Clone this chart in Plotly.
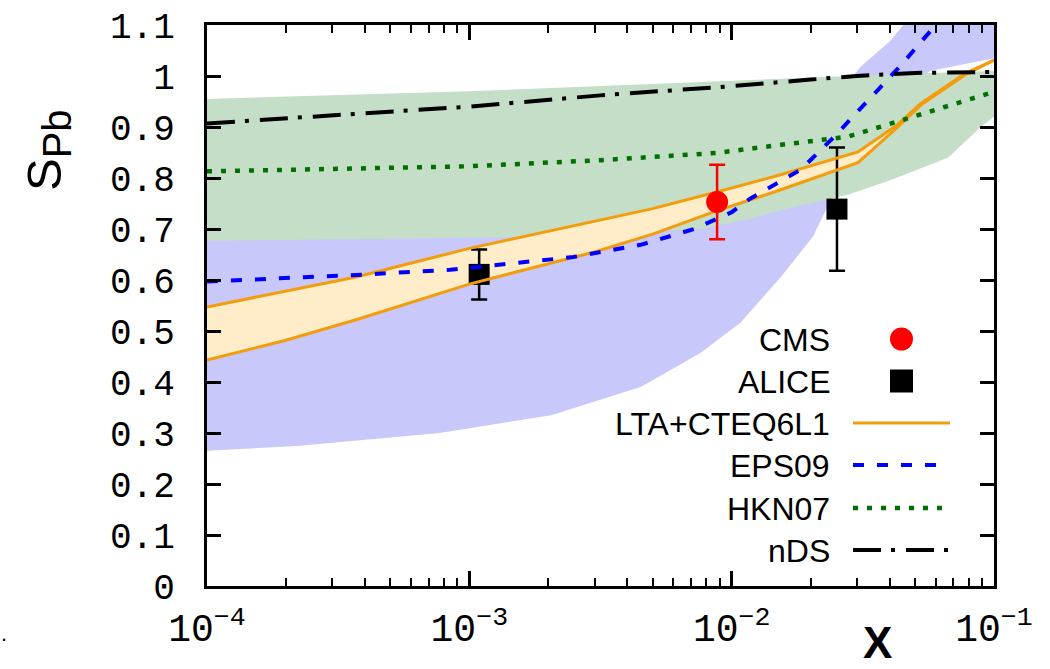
import plotly.graph_objects as go

# ---------------- data ----------------
# EPS09 uncertainty band
eps_band_lo_x = [1e-4, 2.26e-4, 7.7e-4, 2.05e-3, 4.5e-3, 7.6e-3, 1.08e-2, 1.29e-2, 1.54e-2,
                 2.04e-2, 2.25e-2, 3e-2, 4e-2, 5.7e-2, 7.5e-2, 1e-1]
eps_band_lo_y = [0.265, 0.275, 0.30, 0.335, 0.39, 0.457, 0.516, 0.56, 0.606,
                 0.685, 0.73, 0.85, 0.95, 1.01, 1.022, 1.035]
eps_band_hi_x = [1e-4, 1e-2, 2e-2, 2.9e-2, 3.1e-2, 4.05e-2, 4.5e-2, 1e-1]
eps_band_hi_y = [0.80, 0.85, 0.93, 1.0, 1.018, 1.07, 1.10, 1.5]
# EPS09 central
eps_x = [1e-4, 3.74e-4, 8.45e-4, 2.49e-3, 4.5e-3, 7.2e-3, 1e-2, 1.18e-2, 1.83e-2,
         2.45e-2, 3.6e-2, 4.4e-2, 5.9e-2, 1e-1]
eps_y = [0.597, 0.61, 0.62, 0.645, 0.669, 0.70, 0.733, 0.76, 0.816,
         0.88, 0.972, 1.02, 1.096, 1.24]

# HKN07 uncertainty band
hkn_band_hi_x = [1e-4, 1e-3, 3.16e-3, 1e-2, 2e-2, 5e-2, 1e-1]
hkn_band_hi_y = [0.955, 0.97, 0.98, 0.99, 0.997, 1.005, 1.01]
hkn_band_lo_x = [1e-4, 1.39e-3, 3.16e-3, 7.6e-3, 1.18e-2, 1.54e-2, 2.77e-2, 4.05e-2,
                 6.7e-2, 8.9e-2, 1e-1]
hkn_band_lo_y = [0.677, 0.684, 0.69, 0.70, 0.72, 0.737, 0.767, 0.796, 0.84, 0.90, 0.92]
# HKN07 central
hkn_x = [1e-4, 1e-3, 3.16e-3, 8.7e-3, 1.54e-2, 2.77e-2, 4.5e-2, 1e-1]
hkn_y = [0.813, 0.823, 0.835, 0.849, 0.865, 0.881, 0.914, 0.969]

# nDS
nds_x = [1e-4, 1e-3, 3.16e-3, 1e-2, 2e-2, 3e-2, 5e-2, 1e-1]
nds_y = [0.907, 0.94, 0.962, 0.98, 0.993, 1.0, 1.006, 1.008]

# LTA+CTEQ6L1 band edges
lta_x = [1e-4, 2e-4, 3.7e-4, 1e-3, 3e-3, 5e-3, 8.7e-3, 1.5e-2, 3.03e-2, 4.3e-2, 5.26e-2, 7.75e-2, 1e-1]
lta_hi = [0.547, 0.578, 0.606, 0.662, 0.715, 0.740, 0.772, 0.805, 0.851, 0.905, 0.946, 1.005, 1.031]
lta_lo = [0.443, 0.482, 0.522, 0.592, 0.655, 0.690, 0.735, 0.775, 0.830, 0.900, 0.943, 1.002, 1.031]

# data points
cms_x = [8.8e-3]
cms_y = [0.753]
cms_err = [0.073]
alice_x = [1.09e-3, 2.52e-2]
alice_y = [0.611, 0.739]
alice_err = [0.049, 0.121]

# ticks
y_tickvals = [0, 0.1, 0.2, 0.3, 0.4, 0.5, 0.6, 0.7, 0.8, 0.9, 1.0, 1.1]
y_ticktext = ["0", "0.1", "0.2", "0.3", "0.4", "0.5", "0.6", "0.7", "0.8", "0.9", "1", "1.1"]
x_tickvals = [1e-4, 1e-3, 1e-2, 1e-1]
x_ticktext = ["10<sup>\u22124</sup>", "10<sup>\u22123</sup>", "10<sup>\u22122</sup>", "10<sup>\u22121</sup>"]
x_minor = [m * 10.0 ** e for e in (-4, -3, -2) for m in range(2, 10)]

legend_labels = ["CMS", "ALICE", "LTA+CTEQ6L1", "EPS09", "HKN07", "nDS"]

# ---------------- styles ----------------
C_BLUE_BAND = "#c8c8fa"
C_GREEN_BAND = "#c4dec7"
C_ORANGE_BAND = "#ffecc9"
C_ORANGE = "#f39c0c"
C_BLUE = "#0000ff"
C_GREEN = "#007000"
DASH_EPS = "11px,13px"
DASH_HKN = "5px,9px"
DASH_NDS = "28px,10px,4px,11px"

fig = go.Figure()


def band(xlo, ylo, xhi, yhi, color):
    fig.add_trace(go.Scatter(
        x=list(xlo) + list(xhi)[::-1], y=list(ylo) + list(yhi)[::-1],
        mode="lines", fill="toself", fillcolor=color, line=dict(width=0),
        hoverinfo="skip", showlegend=False))


band(eps_band_lo_x, eps_band_lo_y, eps_band_hi_x, eps_band_hi_y, C_BLUE_BAND)
band(hkn_band_lo_x, hkn_band_lo_y, hkn_band_hi_x, hkn_band_hi_y, C_GREEN_BAND)
band(lta_x, lta_lo, lta_x, lta_hi, C_ORANGE_BAND)

# ALICE points (drawn under the curves)
fig.add_trace(go.Scatter(
    x=alice_x, y=alice_y, mode="markers",
    marker=dict(symbol="square", size=21, color="black"),
    error_y=dict(type="data", array=alice_err, color="black", thickness=2.5, width=8),
    showlegend=False))

fig.add_trace(go.Scatter(x=lta_x, y=lta_hi, mode="lines",
                         line=dict(color=C_ORANGE, width=3), showlegend=False))
fig.add_trace(go.Scatter(x=lta_x, y=lta_lo, mode="lines",
                         line=dict(color=C_ORANGE, width=3), showlegend=False))
fig.add_trace(go.Scatter(x=eps_x, y=eps_y, mode="lines",
                         line=dict(color=C_BLUE, width=4, dash=DASH_EPS), showlegend=False))
fig.add_trace(go.Scatter(x=hkn_x, y=hkn_y, mode="lines",
                         line=dict(color=C_GREEN, width=4.5, dash=DASH_HKN), showlegend=False))
fig.add_trace(go.Scatter(x=nds_x, y=nds_y, mode="lines",
                         line=dict(color="black", width=4, dash=DASH_NDS), showlegend=False))

fig.add_trace(go.Scatter(
    x=cms_x, y=cms_y, mode="markers",
    marker=dict(symbol="circle", size=22, color="#ff0000"),
    error_y=dict(type="data", array=cms_err, color="#ff0000", thickness=2.5, width=8),
    showlegend=False))

# ---------------- custom legend (text left, sample right) ----------------
L, T, W, H = 207, 25, 787, 561


def px_x(p):
    return (p - L) / W


def px_y(p):
    return (T + H - p) / H


row_y = [339, 381, 423, 465, 508, 550]
text_right = 832
sample_x0, sample_x1 = 853, 950
sym_cx = 901.5

annotations = []
shapes = []
for lab, ry in zip(legend_labels, row_y):
    annotations.append(dict(
        text=lab, x=px_x(text_right), y=px_y(ry + 1), xref="paper", yref="paper",
        xanchor="right", yanchor="middle", showarrow=False,
        font=dict(family="Liberation Sans", size=32, color="black")))

shapes.append(dict(type="circle", xref="paper", yref="paper",
                   xsizemode="pixel", ysizemode="pixel",
                   xanchor=px_x(sym_cx), yanchor=px_y(row_y[0]),
                   x0=-11.5, x1=11.5, y0=-11.5, y1=11.5,
                   fillcolor="#ff0000", line=dict(width=0)))
shapes.append(dict(type="rect", xref="paper", yref="paper",
                   xsizemode="pixel", ysizemode="pixel",
                   xanchor=px_x(sym_cx), yanchor=px_y(row_y[1]),
                   x0=-11.5, x1=11.5, y0=-11.5, y1=11.5,
                   fillcolor="black", line=dict(width=0)))
line_styles = [
    (dict(color=C_ORANGE, width=3), sample_x1),
    (dict(color=C_BLUE, width=4, dash=DASH_EPS), 937),
    (dict(color=C_GREEN, width=4.5, dash=DASH_HKN), 945),
    (dict(color="black", width=4, dash=DASH_NDS), sample_x1),
]
for (ls, xend), ry in zip(line_styles, row_y[2:]):
    shapes.append(dict(type="line", xref="paper", yref="paper",
                       x0=px_x(sample_x0), x1=px_x(xend), y0=px_y(ry), y1=px_y(ry), line=ls))

# axis titles
annotations.append(dict(
    text="S<sub><span style='font-size:40px'>Pb</span></sub>", x=px_x(48), y=px_y(150),
    xref="paper", yref="paper", textangle=-90, showarrow=False,
    xanchor="center", yanchor="middle",
    font=dict(family="Liberation Sans", size=49, color="black")))
annotations.append(dict(
    text="<b>X</b>", x=px_x(877), y=px_y(642), xref="paper", yref="paper",
    showarrow=False, xanchor="center", yanchor="middle",
    font=dict(family="Liberation Sans", size=44, color="black")))
annotations.append(dict(
    text=".", x=px_x(4), y=px_y(634), xref="paper", yref="paper",
    showarrow=False, xanchor="center", yanchor="middle",
    font=dict(family="Liberation Sans", size=22, color="black")))

fig.update_layout(
    width=1050, height=669,
    margin=dict(l=L, r=1050 - L - W, t=T, b=669 - T - H, autoexpand=False),
    paper_bgcolor="white", plot_bgcolor="white",
    showlegend=False,
    annotations=annotations, shapes=shapes,
    xaxis=dict(
        type="log", range=[-4, -1], showgrid=False, zeroline=False, automargin=False,
        showline=True, linecolor="black", linewidth=3, mirror="allticks",
        ticks="inside", ticklen=15, tickwidth=2.5, tickcolor="black",
        tickmode="array", tickvals=x_tickvals, ticktext=x_ticktext,
        tickfont=dict(family="Liberation Mono", size=38, color="black"),
        ticklabelstandoff=6,
        minor=dict(tickmode="array", tickvals=x_minor, ticks="inside", ticklen=8,
                   tickwidth=2, tickcolor="black", showgrid=False),
    ),
    yaxis=dict(
        range=[0, 1.1], showgrid=False, zeroline=False, automargin=False,
        showline=True, linecolor="black", linewidth=3, mirror="allticks",
        ticks="inside", ticklen=14, tickwidth=2.5, tickcolor="black",
        tickmode="array", tickvals=y_tickvals, ticktext=y_ticktext,
        tickfont=dict(family="Liberation Mono", size=36, color="black"),
        ticklabelstandoff=22,
    ),
)

fig.write_html(
    "out.html",
    config={"displayModeBar": False},
    post_script="document.body.style.margin='0px';document.body.style.overflow='hidden';",
)
